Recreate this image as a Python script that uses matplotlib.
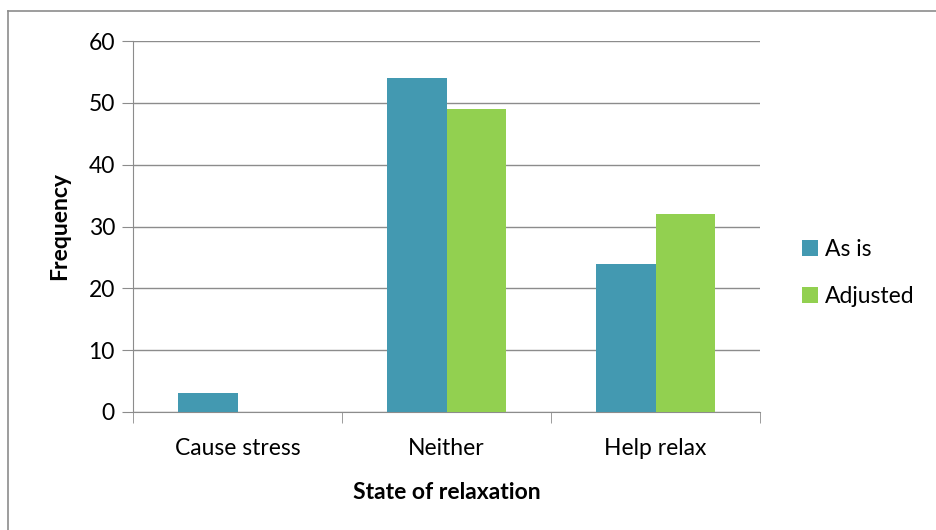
import numpy as np
import matplotlib
matplotlib.use("Agg")
import matplotlib.pyplot as plt
from matplotlib.patches import Patch
from matplotlib.lines import Line2D

categories = ["Cause stress", "Neither", "Help relax"]
as_is = [3, 54, 24]
adjusted = [0, 49, 32]
series_names = ["As is", "Adjusted"]
y_ticks = [0, 10, 20, 30, 40, 50, 60]

teal = "#4399B1"
green = "#92D050"
grid_gray = "#8C8C8C"

plt.rcParams["font.family"] = ["Lato", "DejaVu Sans"]
fs = 16.5

fig = plt.figure(figsize=(9.36, 5.30), dpi=100)
ax = fig.add_axes([133 / 936, 1 - 412 / 530, (760 - 133) / 936, (412 - 41) / 530])

# outer chart frame (top and left edges visible)
fig.add_artist(Line2D([8 / 936, 8 / 936], [0, 1 - 11 / 530], transform=fig.transFigure,
                      color="#8C8C8C", lw=1.2))
fig.add_artist(Line2D([8 / 936, 1], [1 - 11 / 530, 1 - 11 / 530], transform=fig.transFigure,
                      color="#8C8C8C", lw=1.2))

x = np.arange(len(categories))
w = 1 / 3.5
ax.bar(x - w / 2, as_is, width=w, color=teal, zorder=3)
ax.bar(x + w / 2, adjusted, width=w, color=green, zorder=3)

ax.set_xlim(-0.5, len(categories) - 0.5)
ax.set_ylim(0, 60)
ax.set_yticks(y_ticks)
ax.yaxis.grid(True, color=grid_gray, lw=1.0, zorder=0)
ax.set_axisbelow(True)

for s in ["top", "right"]:
    ax.spines[s].set_visible(False)
ax.spines["left"].set_color(grid_gray)
ax.spines["bottom"].set_color(grid_gray)

ax.tick_params(axis="y", length=8, color=grid_gray, labelsize=fs, pad=5)
ax.set_xticks(x)
ax.set_xticklabels(categories, fontsize=fs)
ax.tick_params(axis="x", length=0, pad=19)
# boundary ticks between categories
ax.set_xticks(np.arange(len(categories) + 1) - 0.5, minor=True)
ax.tick_params(axis="x", which="minor", length=8, color=grid_gray)

ax.set_ylabel("Frequency", fontsize=fs, fontweight="bold", labelpad=13)
ax.set_xlabel("State of relaxation", fontsize=fs, fontweight="bold", labelpad=16)

handles = [Patch(facecolor=teal), Patch(facecolor=green)]
fig.legend(handles, series_names, loc="center left", bbox_to_anchor=(802 / 936, 1 - 273 / 530),
           frameon=False, fontsize=fs, handlelength=0.7, handleheight=0.7,
           handletextpad=0.3, labelspacing=1.1, borderpad=0, borderaxespad=0)

fig.savefig("out.png", dpi=100)
